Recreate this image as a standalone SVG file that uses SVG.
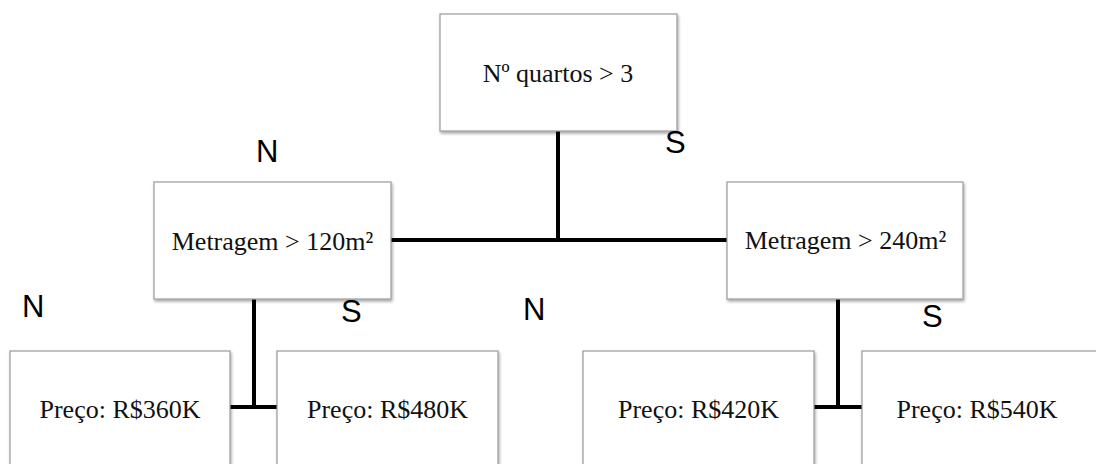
<svg xmlns="http://www.w3.org/2000/svg" width="1096" height="464" viewBox="0 0 1096 464">
  <style>
    .box { fill: #ffffff; stroke: #9a9a9a; stroke-width: 1.2; filter: url(#sh); }
    .t { font-family: "Liberation Serif", "Times New Roman", serif; font-size: 26px; fill: #111; text-anchor: middle; }
    .lbl { font-family: "Liberation Sans", Arial, sans-serif; font-size: 31px; fill: #000; }
    .conn { stroke: #000; stroke-width: 4; fill: none; }
  </style>
  <defs>
    <filter id="sh" x="-10%" y="-10%" width="130%" height="130%">
      <feDropShadow dx="1" dy="2" stdDeviation="1.5" flood-color="#000" flood-opacity="0.35"/>
    </filter>
  </defs>
  <rect width="1096" height="464" fill="#ffffff"/>

  <g id="connectors">
    <line class="conn" x1="558" y1="131" x2="558" y2="240"/>
    <line class="conn" x1="391" y1="240" x2="727" y2="240"/>
    <line class="conn" x1="254" y1="299" x2="254" y2="407"/>
    <line class="conn" x1="230" y1="407" x2="277" y2="407"/>
    <line class="conn" x1="838" y1="299" x2="838" y2="407"/>
    <line class="conn" x1="814" y1="407" x2="862" y2="407"/>
  </g>

  <g id="root">
    <rect class="box" x="440" y="14" width="237" height="117"/>
    <text class="t" x="558" y="82">Nº quartos &gt; 3</text>
  </g>
  <g id="metragem120">
    <rect class="box" x="154" y="182" width="237" height="117"/>
    <text class="t" x="272.5" y="250">Metragem &gt; 120m²</text>
  </g>
  <g id="metragem240">
    <rect class="box" x="727" y="182" width="236" height="117"/>
    <text class="t" x="845.5" y="249">Metragem &gt; 240m²</text>
  </g>
  <g id="preco360">
    <rect class="box" x="10" y="351" width="220" height="130"/>
    <text class="t" x="120" y="418">Preço: R$360K</text>
  </g>
  <g id="preco480">
    <rect class="box" x="277" y="351" width="221" height="130"/>
    <text class="t" x="387.5" y="418">Preço: R$480K</text>
  </g>
  <g id="preco420">
    <rect class="box" x="583" y="351" width="231" height="130"/>
    <text class="t" x="698.5" y="418">Preço: R$420K</text>
  </g>
  <g id="preco540">
    <rect class="box" x="862" y="351" width="236" height="130"/>
    <text class="t" x="977" y="418">Preço: R$540K</text>
  </g>

  <g id="labels">
    <text class="lbl" x="256" y="162">N</text>
    <text class="lbl" x="665" y="153">S</text>
    <text class="lbl" x="22" y="317">N</text>
    <text class="lbl" x="341" y="322">S</text>
    <text class="lbl" x="523" y="320">N</text>
    <text class="lbl" x="922" y="327">S</text>
  </g>
</svg>
